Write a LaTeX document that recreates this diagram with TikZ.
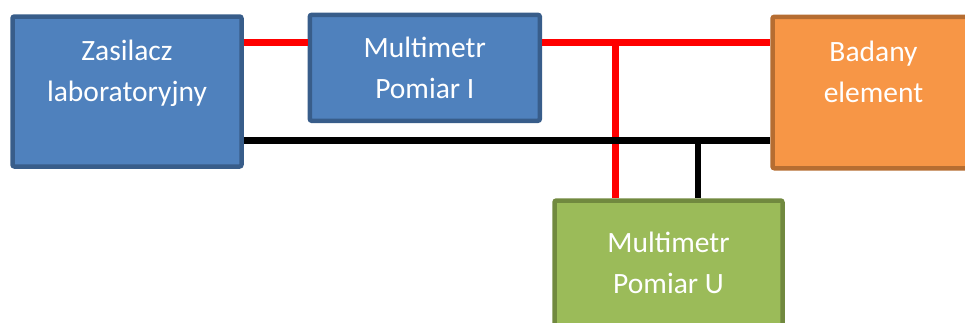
\documentclass[tikz,border=0pt]{standalone}
\usepackage{fontspec}
\setmainfont{Carlito}
\definecolor{boxblue}{HTML}{4F81BD}
\definecolor{boxblueline}{HTML}{385D8A}
\definecolor{boxorange}{HTML}{F79646}
\definecolor{boxorangeline}{HTML}{B66D31}
\definecolor{boxgreen}{HTML}{9BBB59}
\definecolor{boxgreenline}{HTML}{71893F}
\begin{document}
\begin{tikzpicture}[x = 1pt, y = -1pt,
    device/.style = {draw, line width = 4.5pt, rounded corners = 2pt, align = center,
      text = white, inner sep = 0pt, font = \fontsize{29.5pt}{41pt}\selectfont},
    red wire/.style = {draw = red, line width = 6.7pt},
    black wire/.style = {draw = black, line width = 6.7pt}]
    \clip (0, 0) rectangle (965, 322);
    \node[device, fill = boxblue, draw = boxblueline, minimum width = 229pt, minimum height = 150pt]
      (zasilacz) at (127, 91.5) {Zasilacz \\ laboratoryjny \\ ~};
    \node[device, fill = boxblue, draw = boxblueline, minimum width = 230pt, minimum height = 106pt]
      (multimetr i) at (424.8, 67.8) {Multimetr \\ Pomiar I};
    \node[device, fill = boxorange, draw = boxorangeline, minimum width = 202pt, minimum height = 151.5pt]
      (badany element) at (873.5, 92.5) {Badany \\ element \\ ~};
    \node[device, fill = boxgreen, draw = boxgreenline, minimum width = 228pt, minimum height = 165pt]
      (multimetr u) at (668.5, 283) {Multimetr \\ Pomiar U \\ ~};
    % wire levels and taps
    \coordinate (red level) at (0, 42.5);
    \coordinate (black level) at (0, 140.7);
    \coordinate (red tap) at (615.7, 42.5);
    \coordinate (black tap) at (698, 140.7);
    \draw[red wire] (zasilacz.east |- red level) -- (multimetr i.west |- red level);
    \draw[red wire] (multimetr i.east |- red level) -- (badany element.west |- red level);
    \draw[red wire] (red tap) -- (red tap |- multimetr u.north);
    \draw[black wire] (zasilacz.east |- black level) -- (badany element.west |- black level);
    \draw[black wire] (black tap) -- (black tap |- multimetr u.north);
  \end{tikzpicture}
\end{document}
